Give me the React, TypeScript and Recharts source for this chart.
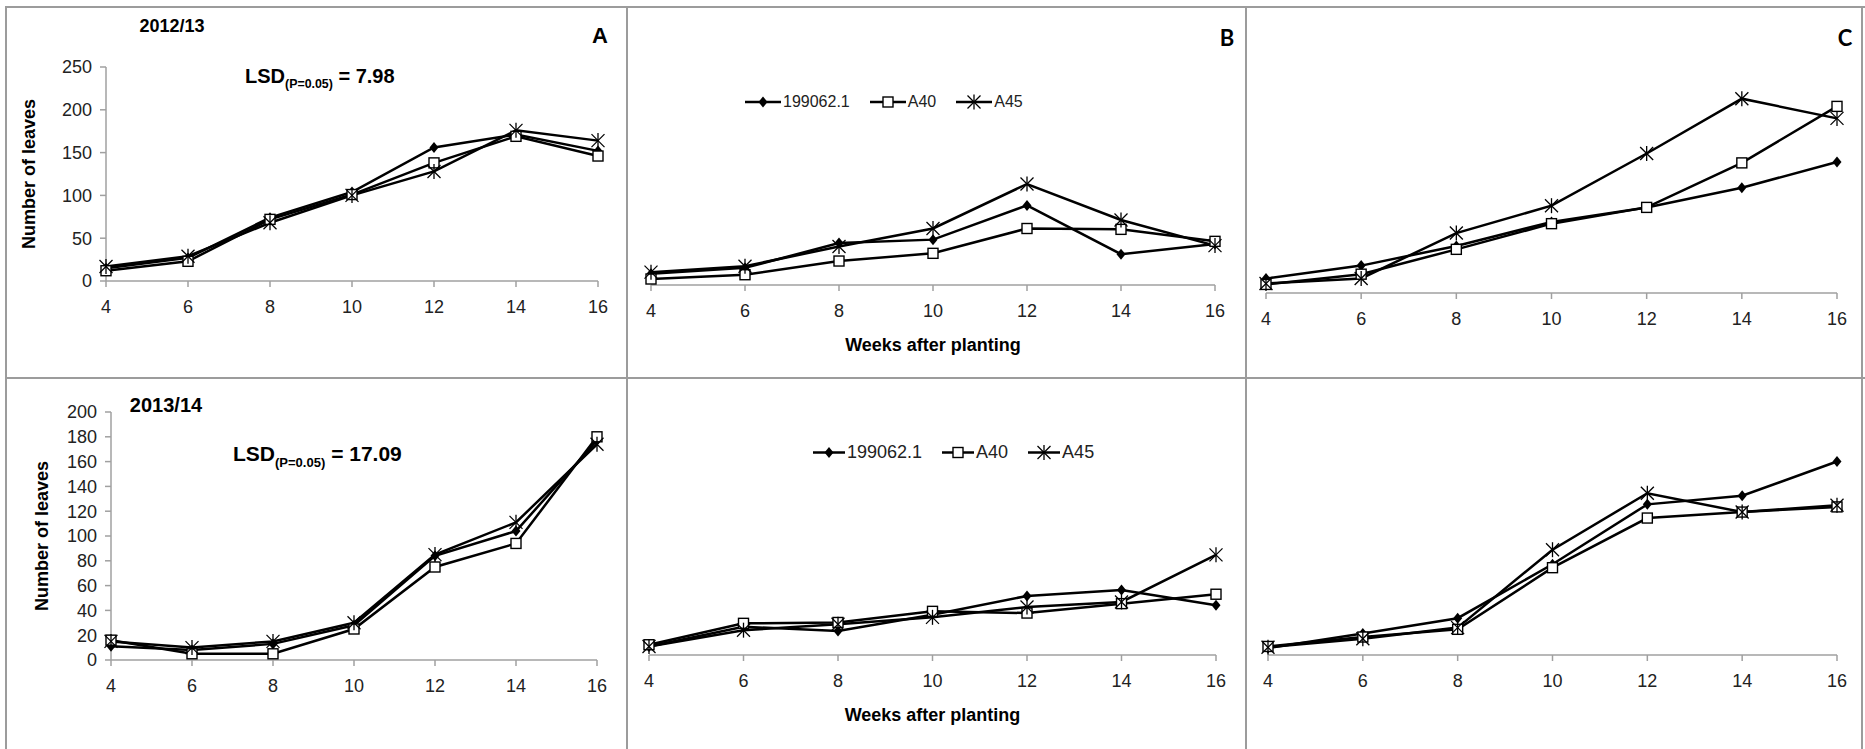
import { LineChart, Line, XAxis, YAxis } from "recharts"

// ---- data ----
const weeks = [4, 6, 8, 10, 12, 14, 16]
const cultivars = ["199062.1", "A40", "A45"]

// 2012/13
const a1213_199062 = [15, 27, 74, 104, 156, 171, 152]
const a1213_A40 = [12, 23, 72, 101, 138, 169, 146]
const a1213_A45 = [17, 29, 68, 100, 128, 176, 164]

const b1213_199062 = [13, 20, 49, 53, 93, 36, 48]
const b1213_A40 = [7, 12, 28, 37, 66, 65, 51]
const b1213_A45 = [15, 22, 45, 66, 118, 76, 46]

const c1213_199062 = [17, 32, 55, 83, 100, 123, 153]
const c1213_A40 = [10, 22, 51, 81, 100, 152, 218]
const c1213_A45 = [11, 17, 70, 102, 163, 227, 204]

// 2013/14
const a1314_199062 = [11, 8, 13, 28, 84, 104, 177]
const a1314_A40 = [16, 5, 5, 25, 75, 94, 180]
const a1314_A45 = [15, 10, 15, 30, 85, 111, 174]

const b1314_199062 = [10, 33, 28, 47, 69, 76, 58]
const b1314_A40 = [12, 37, 38, 51, 49, 60, 71]
const b1314_A45 = [10, 29, 36, 44, 56, 62, 117]

const c1314_199062 = [8, 25, 43, 106, 176, 186, 226]
const c1314_A40 = [10, 21, 30, 102, 160, 167, 173]
const c1314_A45 = [9, 19, 32, 123, 189, 167, 175]

const ticks1213 = [0, 50, 100, 150, 200, 250]
const ticks1314 = [0, 20, 40, 60, 80, 100, 120, 140, 160, 180, 200]

const toRows = (s1: number[], s2: number[], s3: number[]) =>
  weeks.map((w, i) => ({ week: w, c1: s1[i], c2: s2[i], c3: s3[i] }))

const FONT = "'Liberation Sans', Arial, sans-serif"
const AXIS = "#a0a0a0"
const BORDER = "#9c9c9c"
const TICK = "#222"
const kinds = ["diamond", "square", "star"] as const
type Kind = (typeof kinds)[number]

// ---- markers ----
function Marker({ kind, cx, cy }: { kind: Kind; cx: number; cy: number }) {
  if (kind === "diamond") {
    return <polygon points={`${cx},${cy - 5.5} ${cx + 4.5},${cy} ${cx},${cy + 5.5} ${cx - 4.5},${cy}`} fill="#000" />
  }
  if (kind === "square") {
    return <rect x={cx - 5} y={cy - 5} width={10} height={10} fill="#fff" stroke="#000" strokeWidth={1.4} />
  }
  return (
    <g stroke="#000" strokeWidth={1.3}>
      <line x1={cx - 6.5} y1={cy - 6.5} x2={cx + 6.5} y2={cy + 6.5} />
      <line x1={cx - 6.5} y1={cy + 6.5} x2={cx + 6.5} y2={cy - 6.5} />
      <line x1={cx} y1={cy - 7.5} x2={cx} y2={cy + 7.5} />
    </g>
  )
}

const dotFor = (kind: Kind) => (p: any) => (
  <g key={`${kind}-${p.index}`}>
    <Marker kind={kind} cx={p.cx} cy={p.cy} />
  </g>
)

// ---- legend (only in the B panels) ----
function LegendRow({ left, top, fontSize, seg }: { left: number; top: number; fontSize: number; seg: number }) {
  return (
    <div style={{ position: "absolute", left, top, transform: "translateY(-50%)", display: "flex", alignItems: "center", gap: 20, fontSize, color: TICK }}>
      {cultivars.map((c, i) => (
        <div key={c} style={{ display: "flex", alignItems: "center" }}>
          <svg width={seg} height={18}>
            <line x1={0} y1={9} x2={seg} y2={9} stroke="#000" strokeWidth={2.5} />
            <Marker kind={kinds[i]} cx={seg / 2} cy={9} />
          </svg>
          <span style={{ marginLeft: 2 }}>{c}</span>
        </div>
      ))}
    </div>
  )
}

type PanelProps = {
  left: number
  top: number
  width: number
  height: number
  margin: { top: number; right: number; bottom: number; left: number }
  data: { week: number; c1: number; c2: number; c3: number }[]
  yTicks?: number[]
  yMax: number
  yWidth?: number
  yLabelOffset?: number
  xHeight: number
  xLabel?: boolean
}

function Panel(p: PanelProps) {
  return (
    <div style={{ position: "absolute", left: p.left, top: p.top }}>
      <LineChart width={p.width} height={p.height} data={p.data} margin={p.margin}>
        <XAxis
          type="number"
          dataKey="week"
          domain={[4, 16]}
          ticks={weeks}
          interval={0}
          stroke={AXIS}
          strokeWidth={1.5}
          tickSize={6}
          tickMargin={13}
          height={p.xHeight}
          tick={{ fill: TICK, fontSize: 18, fontFamily: FONT }}
          label={
            p.xLabel
              ? { value: "Weeks after planting", position: "insideBottom", offset: 4, fill: "#000", fontSize: 18, fontWeight: 700, fontFamily: FONT }
              : undefined
          }
        />
        {p.yTicks ? (
          <YAxis
            domain={[0, p.yMax]}
            ticks={p.yTicks}
            interval={0}
            width={p.yWidth}
            stroke={AXIS}
            strokeWidth={1.5}
            tickSize={6}
            tickMargin={8}
            tick={{ fill: TICK, fontSize: 18, fontFamily: FONT }}
            label={{
              value: "Number of leaves",
              angle: -90,
              position: "insideLeft",
              offset: p.yLabelOffset,
              style: { textAnchor: "middle" },
              fill: "#000",
              fontSize: 18,
              fontWeight: 700,
              fontFamily: FONT,
            }}
          />
        ) : (
          <YAxis hide domain={[0, p.yMax]} />
        )}
        {(["c1", "c2", "c3"] as const).map((k, i) => (
          <Line
            key={k}
            dataKey={k}
            name={cultivars[i]}
            stroke="#000"
            strokeWidth={2.5}
            dot={dotFor(kinds[i])}
            activeDot={false}
            isAnimationActive={false}
          />
        ))}
      </LineChart>
    </div>
  )
}

const centered = (x: number, y: number): React.CSSProperties => ({
  position: "absolute",
  left: x,
  top: y,
  transform: "translate(-50%, -50%)",
  whiteSpace: "nowrap",
})

function Lsd({ left, top, value, size }: { left: number; top: number; value: string; size: number }) {
  return (
    <div style={{ position: "absolute", left, top, transform: "translateY(-50%)", fontWeight: 700, fontSize: size, whiteSpace: "nowrap" }}>
      LSD<sub style={{ fontSize: size * 0.62 }}>(P=0.05)</sub> = {value}
    </div>
  )
}

const hLine = (x: number, y: number, w: number) => (
  <div style={{ position: "absolute", left: x, top: y - 1, width: w, height: 2, background: BORDER }} />
)
const vLine = (x: number, y: number, h: number) => (
  <div style={{ position: "absolute", left: x - 1, top: y, width: 2, height: h, background: BORDER }} />
)

export default function App() {
  return (
    <div style={{ position: "absolute", left: 0, top: 0, width: 1865, height: 749, background: "#fff", fontFamily: FONT, overflow: "hidden" }}>
      {/* 2012/13 */}
      <Panel left={0} top={0} width={627} height={378} margin={{ top: 67, right: 29, bottom: 67, left: 0 }}
        data={toRows(a1213_199062, a1213_A40, a1213_A45)} yTicks={ticks1213} yMax={250} yWidth={106} yLabelOffset={29} xHeight={30} />
      <Panel left={627} top={0} width={619} height={378} margin={{ top: 71, right: 31, bottom: 23, left: 24 }}
        data={toRows(b1213_199062, b1213_A40, b1213_A45)} yMax={250} xHeight={70} xLabel />
      <Panel left={1246} top={0} width={619} height={378} margin={{ top: 79, right: 28, bottom: 55, left: 20 }}
        data={toRows(c1213_199062, c1213_A40, c1213_A45)} yMax={250} xHeight={30} />

      {/* 2013/14 */}
      <Panel left={0} top={378} width={627} height={371} margin={{ top: 34, right: 30, bottom: 59, left: 0 }}
        data={toRows(a1314_199062, a1314_A40, a1314_A45)} yTicks={ticks1314} yMax={200} yWidth={111} yLabelOffset={42} xHeight={30} />
      <Panel left={627} top={378} width={619} height={371} margin={{ top: 63, right: 30, bottom: 24, left: 22 }}
        data={toRows(b1314_199062, b1314_A40, b1314_A45)} yMax={250} xHeight={70} xLabel />
      <Panel left={1246} top={378} width={619} height={371} margin={{ top: 63, right: 28, bottom: 64, left: 22 }}
        data={toRows(c1314_199062, c1314_A40, c1314_A45)} yMax={250} xHeight={30} />

      {/* annotations */}
      <div style={{ ...centered(172, 26), fontWeight: 700, fontSize: 18 }}>2012/13</div>
      <div style={{ ...centered(166, 405), fontWeight: 700, fontSize: 20 }}>2013/14</div>
      <Lsd left={245} top={78} value="7.98" size={20} />
      <Lsd left={233} top={456} value="17.09" size={21} />
      <div style={{ ...centered(600, 36), fontWeight: 700, fontSize: 22 }}>A</div>
      <div style={{ ...centered(1227, 37), fontWeight: 700, fontSize: 22, fontFamily: "Lato, sans-serif" }}>B</div>
      <div style={{ ...centered(1845, 37), fontWeight: 700, fontSize: 22, fontFamily: "Lato, sans-serif" }}>C</div>

      <LegendRow left={745} top={102} fontSize={16} seg={36} />
      <LegendRow left={813} top={452} fontSize={18} seg={32} />

      {/* panel frames */}
      {hLine(5, 7, 1860)}
      {hLine(5, 378, 1860)}
      {vLine(6, 7, 742)}
      {vLine(627, 7, 742)}
      {vLine(1246, 7, 742)}
      {vLine(1862, 7, 742)}
    </div>
  )
}
